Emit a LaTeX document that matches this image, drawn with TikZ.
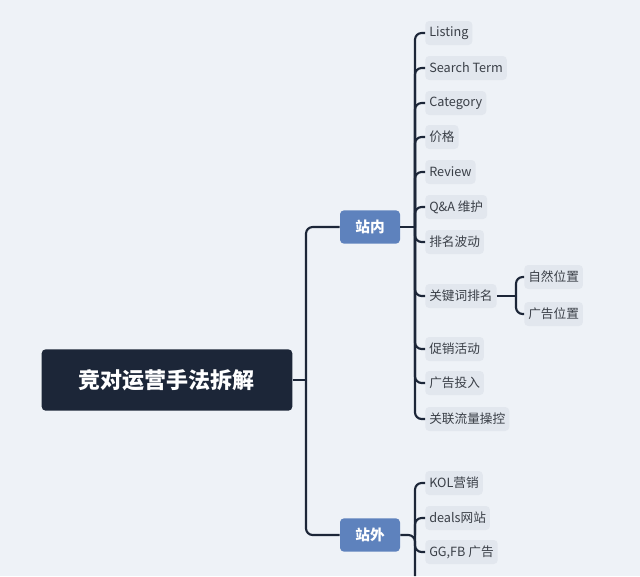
\documentclass[tikz,border=0pt]{standalone}
\usepackage{fontspec}
\setmainfont{Noto Sans CJK SC}
\usetikzlibrary{positioning}
\definecolor{bgcol}{HTML}{EEF2F7}
\definecolor{navy}{HTML}{1C2638}
\definecolor{bluebox}{HTML}{5E82BD}
\definecolor{leafcol}{HTML}{E2E7EE}
\definecolor{leaftext}{HTML}{3A3F47}
\tikzset{
  rootbox/.style={fill=navy,text=white,rounded corners=3pt,font=\fontsize{16.5}{18}\selectfont\bfseries,minimum width=188pt,minimum height=46pt},
  midbox/.style={fill=bluebox,text=white,rounded corners=3pt,font=\fontsize{11}{13}\selectfont\bfseries,minimum width=45pt,minimum height=25pt},
  leafbox/.style={fill=leafcol,text=leaftext,rounded corners=3pt,font=\fontsize{9.5}{11}\selectfont,inner xsep=3pt,minimum height=18pt,anchor=west},
  conn/.style={draw=navy,line width=1.6pt,rounded corners=5pt},
}
\begin{document}
\begin{tikzpicture}[x=0.75pt,y=-0.75pt]
  \useasboundingbox[fill=bgcol] (0,0) rectangle (640,576);
  % Root and main branches
  \node[rootbox] (root) at (167,380) {竞对运营手法拆解};
  \node[midbox] (zn) at (370,227) {站内};
  \node[midbox] (zw) at (370,535) {站外};
  \coordinate (j0) at (306,380);
  \draw[conn] (root.east) -- (j0);
  \draw[conn] (j0) |- (zn.west);
  \draw[conn] (j0) |- (zw.west);
  % Leaves of 站内
  \coordinate (j1) at (415,227);
  \draw[conn] (zn.east) -- (j1);
  \foreach \t/\y [count=\i] in {Listing/33,Search Term/68,Category/103,价格/137,Review/172,Q\&A 维护/207,排名波动/242,关键词排名/296,促销活动/349,广告投入/383,关联流量操控/419}
    {\node[leafbox] (a\i) at (425,\y) {\t};
     \draw[conn] (j1) |- (a\i.west);}
  % Sub leaves of 关键词排名
  \coordinate (j2) at (516,296);
  \draw[conn] (a8.east) -- (j2);
  \foreach \t/\y [count=\i] in {自然位置/277,广告位置/314}
    {\node[leafbox] (k\i) at (524,\y) {\t};
     \draw[conn] (j2) |- (k\i.west);}
  % Leaves of 站外
  \coordinate (j3) at (415,535);
  \coordinate (j4) at (415,576);
  \draw[conn] (zw.east) -- (j3) -- (j4);
  \foreach \t/\y [count=\i] in {KOL营销/483,deals网站/518,{GG,FB 广告}/552}
    {\node[leafbox] (b\i) at (425,\y) {\t};
     \draw[conn] (j3) |- (b\i.west);}
\end{tikzpicture}
\end{document}
